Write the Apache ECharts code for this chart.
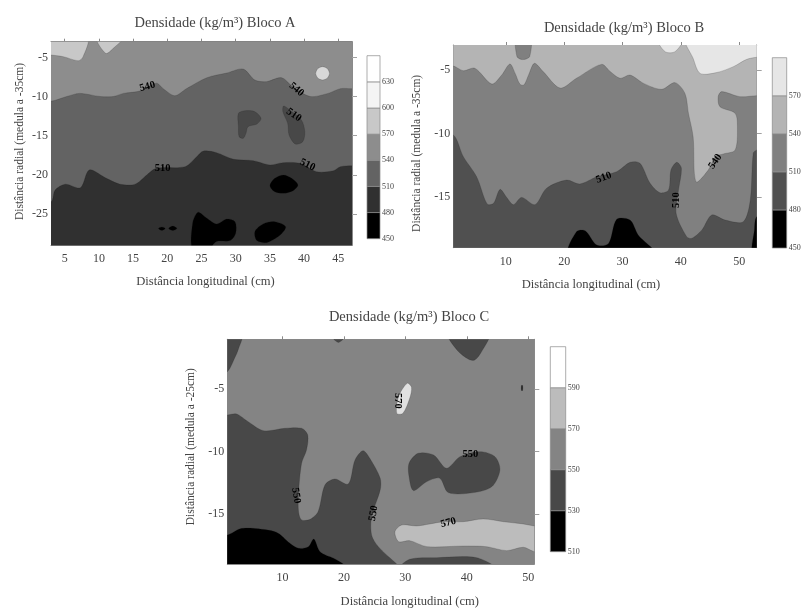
<!DOCTYPE html>
<html><head><meta charset="utf-8">
<script src="https://cdn.jsdelivr.net/npm/echarts@6/dist/echarts.min.js"></script>
<style>html,body{margin:0;padding:0;background:#fff}#c{width:802px;height:608px;filter:blur(0.7px)}</style>
</head><body><div id="c"></div>
<script>
// ---------- Bloco A ----------
const aTitle='Densidade (kg/m³) Bloco A';
const aYName='Distância radial (medula a -35cm)';
const aXTicks=[5,10,15,20,25,30,35,40,45];
const aYTicks=[-5,-10,-15,-20,-25];
const aLevels=[450,480,510,540,570,600,630,660];
const a540=[[3,-10.6],[5.3,-10],[7.2,-9.6],[10.2,-10],[12.1,-10],[13.6,-9.6],[16,-9.3],[18.4,-8.3],[19.4,-9],[21.1,-9.9],[22.8,-9],[25.8,-7.6],[28.7,-7],[31.1,-6.5],[32.8,-7.9],[34.5,-8.1],[36.7,-7.6],[38.4,-8.8],[40.9,-10],[43.5,-9.6],[45.3,-9],[47,-9]];
const a510=[[3,-23.43],[3.6,-21.94],[5.1,-21.2],[7.3,-21.64],[8.6,-19.38],[11.1,-20.45],[13.1,-21.2],[15.3,-21.2],[17,-20.02],[18.4,-19.17],[22.6,-18.96],[24.3,-17.68],[25.3,-16.96],[27.2,-17.17],[29.7,-18.02],[32.6,-18.19],[35,-18.74],[36.9,-18.45],[39.4,-18.53],[41.8,-19.6],[44.3,-19.47],[45.3,-18.96],[47,-18.83]];
const aLight1=[[1,-4.6],[3,-4.7],[4.8,-4.91],[7,-5.43],[7.7,-4.91],[8.3,-2.5],[1,-2]];
const aLight2=[[9.7,-2.5],[11,-4.49],[12.1,-3.85],[13.5,-2.5]];
const aCircle=[[43.7,-7.04],[43.4,-6.44],[42.7,-6.19],[42,-6.44],[41.7,-7.04],[42,-7.64],[42.7,-7.89],[43.4,-7.64]];
const aIsland1=[[30.4,-12.15],[31.4,-11.81],[32.8,-11.94],[33.7,-12.79],[33.1,-13.51],[31.8,-13.85],[31.5,-14.7],[31.1,-15.34],[30.5,-15.13],[30.4,-13.85]];
const aIsland2=[[37,-11.21],[37.9,-11.72],[39.6,-13],[40.1,-14.49],[39.8,-15.77],[38.7,-16.06],[37.8,-14.91],[37.6,-13.43],[36.9,-11.94]];
const aBlack1=[[35,-21.38],[35.7,-20.45],[37,-20.02],[38.2,-20.45],[39.1,-21.3],[38.4,-22.02],[37,-22.36],[35.7,-22.15]];
const aBlack2=[[23.7,-29.5],[23.7,-26.19],[24.5,-24.79],[25.8,-25.55],[27.2,-26.28],[28.7,-25.64],[29.9,-25.98],[30,-27.47],[29.2,-28.4],[27.2,-28.53],[26,-29.5]];
const aBlack3=[[32.8,-27.26],[34,-26.28],[35.7,-25.98],[37.3,-26.62],[36.5,-27.68],[34.5,-28.66],[33.1,-28.4]];
const aDot1=[[18.7,-26.85],[19.2,-26.65],[19.7,-26.85],[19.2,-27.1]];
const aDot2=[[20.2,-26.85],[20.8,-26.55],[21.4,-26.85],[20.8,-27.1]];
const aLabels=[[17.1,-8.74,540],[38.9,-9.09,540],[38.5,-12.36,510],[19.3,-19.17,510],[40.5,-18.74,510]];
const aLabelAngles=[15,-40,-35,0,-25];
// ---------- Bloco B ----------
const bTitle='Densidade (kg/m³) Bloco B';
const bYName='Distância radial (medula a -35cm)';
const bXTicks=[10,20,30,40,50];
const bYTicks=[-5,-10,-15];
const bLevels=[450,480,510,540,570,600];
const b540=[[1,-4.66],[2.7,-5.03],[4.7,-4.84],[7.6,-6.08],[9.3,-5.37],[10.7,-4.5],[11.6,-5.24],[12.4,-6.08],[13.1,-6.16],[13.9,-5.37],[14.9,-4.45],[16.4,-5.1],[19.3,-6.4],[22.1,-5.63],[26.4,-4.53],[27.9,-5.1],[29.6,-5.63],[31.3,-5.37],[33.6,-6.03],[36.7,-6.5],[39,-5.97],[40.7,-6.82],[41.3,-8.39],[42.1,-10.24],[42.6,-13.79],[44.7,-12.87],[45.9,-11.82],[47.3,-11.6],[49.3,-11.29],[49.7,-9.45],[49.3,-8.39],[46.7,-7.87],[46.4,-7.08],[47,-6.68],[50.1,-7.08],[53,-7]];
const bPatch=[[11.8,-2],[11.9,-3.9],[12.9,-4.15],[14.1,-3.9],[14.2,-2]];
const b570a=[[40.9,-2.5],[42.1,-4.05],[43.3,-5.24],[46.1,-5.18],[49,-4.71],[51.3,-4.13],[53,-3.97],[55,-3.9],[55,-2]];
const b570b=[[36,-2.5],[37.3,-3.53],[39,-3.53],[40.4,-2.5]];
const b510=[[1,-10.1],[2.7,-11.8],[5,-13.4],[6.8,-15.55],[7.9,-15.5],[9,-14.4],[10.1,-15],[11.3,-15.6],[12.7,-15.03],[15,-15.6],[17,-14.3],[20.4,-13.66],[22.7,-13.97],[25.6,-13.4],[29,-13],[31.3,-12.26],[33,-12.34],[34.7,-13.9],[36.4,-14.66],[37.9,-14.45],[38.3,-12.87],[39.3,-12.26],[40.1,-12.74],[39.6,-14.45],[39.2,-16.3],[41,-18.13],[41.9,-18.26],[43.6,-17.6],[45.3,-16.42],[47.6,-16.82],[50.7,-16.95],[51.9,-15.24],[52.4,-11.55],[53,-11.3]];
const bBlack1=[[20.8,-19.5],[22.1,-17.74],[23.6,-17.66],[25.6,-18.79],[27.6,-18.66],[29,-16.76],[31.3,-16.82],[32.7,-18],[35.6,-19.5]];
const bBlack2=[[52.3,-19.5],[52.6,-17.6],[53,-16.55],[55,-16.5],[55,-19.5]];
const bLabels=[[26.8,-13.47,510],[39.2,-15.24,510],[45.9,-12.2,540]];
const bLabelAngles=[20,90,55];
// ---------- Bloco C ----------
const cTitle='Densidade (kg/m³) Bloco C';
const cYName='Distância radial (medula a -25cm)';
const cXTicks=[10,20,30,40,50];
const cYTicks=[-5,-10,-15];
const cLevels=[510,530,550,570,590,610];
const c550=[[1,-7.06],[2.5,-6.98],[4.4,-7.6],[6.9,-8.32],[10.4,-8.13],[13.1,-8.13],[14.1,-8.66],[13.9,-9.87],[13.1,-10.93],[12.6,-13.34],[12.6,-14.8],[13.1,-15.47],[14.5,-15.42],[15.8,-14.8],[16.9,-12.67],[18.5,-12.19],[20.7,-12.59],[21.8,-10.67],[23.1,-9.92],[24.2,-10.53],[25.9,-12.13],[25.9,-13.07],[24.5,-15.2],[24.5,-16.67],[25.6,-17.61],[28.6,-19],[30,-19.6]];
const cBlack=[[1,-16.67],[3.1,-16.17],[5.2,-16.14],[9,-16.46],[11.2,-17.34],[12.6,-17.74],[14.2,-17.61],[15.1,-17],[16.1,-18.01],[18.3,-18.54],[19.9,-19],[21,-19.6]];
const cTopLeft=[[-1,-0.5],[3.4,-0.5],[2.8,-1.8],[2.2,-2.5],[1,-3.6],[-1,-4]];
const cTopRight=[[37,-0.6],[38.4,-1.85],[40.3,-2.6],[41.3,-2.66],[42.4,-2],[43.6,-0.6]];
const cTopMid=[[18.1,-0.8],[19.1,-1.25],[20.1,-0.8]];
const cIsland=[[30.6,-10.93],[32.1,-10.13],[34.6,-10.27],[36.7,-11.33],[38.9,-10.4],[42.2,-10],[44.6,-10.4],[45.4,-11.47],[44.1,-12.8],[41.1,-13.28],[37,-13.28],[35.6,-12.13],[33.5,-12.4],[31.3,-13.12],[30.6,-12]];
const cLens=[[28.3,-16.41],[29.4,-15.87],[31.8,-15.95],[34,-15.79],[36.2,-15.61],[39.4,-15.61],[42.7,-15.39],[46,-15.61],[49.2,-15.79],[51,-15.95],[53,-16],[53,-18.1],[51,-18.01],[49.2,-17.66],[46.5,-17.93],[43.2,-17.61],[39.4,-17.56],[33.5,-17.61],[30.7,-17.13],[28.9,-17.21]];
const cSliver=[[29,-19.4],[30.7,-18.62],[35.1,-18.49],[41.6,-18.49],[44.8,-19.4]];
const cPeak=[[28.6,-6.93],[28.9,-5.59],[30.3,-4.52],[31,-4.84],[30.7,-5.73],[29.6,-6.93]];
const cDot=[[48.9,-4.7],[49.1,-4.7],[49.1,-5.1],[48.9,-5.1]];
const cLabels=[[28.7,-5.94,570],[40.6,-10.21,550],[12.2,-13.52,550],[24.8,-14.94,550],[37,-15.69,570]];
const cLabelAngles=[-90,0,-80,80,15];

const FONT='"Liberation Serif", serif';
const INK='#444444';
const grey={k:'#000000',d:'#303030',m:'#636363',g:'#8d8d8d',l:'#c8c8c8',w:'#f4f4f4',W:'#ffffff'};

const above=(c,x0,x1,y1)=>[...c,[x1+3,c[c.length-1][1]],[x1+3,y1+3],[x0-3,y1+3],[x0-3,c[0][1]]];
const below=(c,x0,x1,y0)=>[...c,[x1+3,c[c.length-1][1]],[x1+3,y0-3],[x0-3,y0-3],[x0-3,c[0][1]]];

const panels=[
 {title:aTitle,tc:[210,11],yName:aYName,xT:aXTicks,yT:aYTicks,ext:[3,47,-29,-3],
  rect:[51,41.7,301,203.6],leg:[367,55.7,13,183],levels:aLevels,xPad:[0,0,0,8],yPad:[0,0,0,4],xGap:30,yGap:25,
  legCols:[grey.k,grey.d,grey.m,grey.g,grey.l,grey.w,grey.W],labels:aLabels,angles:aLabelAngles,
  base:grey.m,regions:[
   [above(a540,3,47,-3),grey.g],[aLight1,grey.l],[aLight2,grey.l],[aCircle,'#d8d8d8'],
   [below(a510,3,47,-29),grey.d],[aIsland1,'#484848'],[aIsland2,'#484848'],
   [aBlack1,grey.k],[aBlack2,grey.k],[aBlack3,grey.k],[aDot1,grey.k],[aDot2,grey.k]]},
 {title:bTitle,tc:[619,16],yName:bYName,xT:bXTicks,yT:bYTicks,ext:[1,53,-19,-3],
  rect:[453.3,45,303.4,202.7],leg:[772.3,57.7,14.4,190.3],levels:bLevels,xPad:[0,28,0,0],yPad:[0,14,0,0],xGap:30,yGap:30,
  legCols:['#000','#505050','#808080','#b4b4b4','#e6e6e6'],labels:bLabels,angles:bLabelAngles,
  base:'#808080',regions:[
   [above(b540,1,53,-3),'#b4b4b4'],[bPatch,'#808080'],[b570a,'#e6e6e6'],[b570b,'#e6e6e6'],
   [below(b510,1,53,-19),'#505050'],[bBlack1,'#000'],[bBlack2,'#000']]},
 {title:cTitle,tc:[404,305],yName:cYName,xT:cXTicks,yT:cYTicks,ext:[1,51,-19,-1],
  rect:[227.3,339.3,307,224.7],leg:[550.3,346.7,15.4,205],levels:cLevels,xPad:[0,0,0,58],yPad:[0,0,0,10],xGap:31,yGap:30,
  legCols:['#000','#484848','#848484','#bcbcbc','#ffffff'],labels:cLabels,angles:cLabelAngles,
  base:'#848484',regions:[
   [below(c550,1,51,-19).slice(0,-3).concat([[-2,-22],[-2,-7.06]]),'#484848'],
   [below(cBlack,1,51,-19).slice(0,-3).concat([[-2,-22],[-2,-16.67]]),'#000'],
   [cTopLeft,'#484848'],[cTopRight,'#484848'],[cTopMid,'#484848'],[cIsland,'#484848'],
   [cLens,'#bcbcbc'],[cSliver,'#484848'],[cPeak,'#e0e0e0'],[cDot,'#222']]}
];

const opt={animation:false,backgroundColor:'#fff',title:[],grid:[],xAxis:[],yAxis:[],series:[]};
const frame={show:true,onZero:false,lineStyle:{color:'#8a8a8a',width:1}};
const lbl={color:INK,fontFamily:FONT,fontSize:12};

panels.forEach((p)=>{
 const [x0,x1,y0,y1]=p.ext;
 opt.title.push({text:p.title,left:p.tc[0],top:p.tc[1],textAlign:'center',
   textStyle:{fontFamily:FONT,fontSize:14.5,fontWeight:'normal',color:INK}});
 const g=opt.grid.length;
 opt.grid.push({left:p.rect[0],top:p.rect[1],width:p.rect[2],height:p.rect[3],outerBoundsMode:'none'});
 const xi=opt.xAxis.length, yi=opt.yAxis.length;
 opt.xAxis.push({type:'value',gridIndex:g,min:x0,max:x1,position:'bottom',name:'Distância longitudinal (cm)',
   nameLocation:'middle',nameGap:p.xGap,nameTextStyle:{...lbl,fontSize:12.6,padding:p.xPad},
   axisLine:frame,splitLine:{show:false},axisTick:{show:false},
   axisLabel:{...lbl,margin:8,customValues:p.xT}});
 opt.xAxis.push({type:'value',gridIndex:g,min:x0,max:x1,position:'top',
   axisLine:frame,splitLine:{show:false},axisLabel:{show:false},
   axisTick:{show:true,length:3,lineStyle:{color:'#8a8a8a'},customValues:p.xT}});
 opt.yAxis.push({type:'value',gridIndex:g,min:y0,max:y1,position:'left',name:p.yName,
   nameLocation:'middle',nameGap:p.yGap,nameTextStyle:{...lbl,fontSize:11.5,padding:p.yPad},
   axisLine:frame,splitLine:{show:false},axisTick:{show:false},
   axisLabel:{...lbl,margin:3,customValues:p.yT}});
 opt.yAxis.push({type:'value',gridIndex:g,min:y0,max:y1,position:'right',
   axisLine:frame,splitLine:{show:false},axisLabel:{show:false},
   axisTick:{show:true,length:5,lineStyle:{color:'#a0a0a0'},customValues:p.yT}});
 const corners=[[x0-3,y0-3],[x1+3,y0-3],[x1+3,y1+3],[x0-3,y1+3]];
 [[corners,p.base],...p.regions].forEach(([pts,col])=>{
  opt.series.push({type:'custom',xAxisIndex:xi,yAxisIndex:yi,silent:true,z:2,
   data:pts,encode:{x:0,y:1},
   renderItem:(params,api)=>params.dataIndex!==0?null:({
     type:'polygon',
     shape:{points:pts.map(q=>api.coord(q)),smooth:pts===corners?0:0.3},
     style:{fill:col,stroke:'rgba(30,30,30,0.3)',lineWidth:pts===corners?0:0.6},
     clipPath:{type:'rect',shape:{x:params.coordSys.x,y:params.coordSys.y,width:params.coordSys.width,height:params.coordSys.height}}
   })});
 });
 opt.series.push({type:'custom',xAxisIndex:xi,yAxisIndex:yi,silent:true,z:5,
   data:p.labels,encode:{x:0,y:1},
   renderItem:(params,api)=>{const c=api.coord([api.value(0),api.value(1)]);
     return {type:'text',x:c[0],y:c[1],rotation:p.angles[params.dataIndex]*Math.PI/180,
       style:{text:String(api.value(2)),fill:'#000',font:'bold 10.5px '+FONT,align:'center',verticalAlign:'middle'}};}});
 const lg=opt.grid.length;
 opt.grid.push({left:p.leg[0],top:p.leg[1],width:p.leg[2],height:p.leg[3],outerBoundsMode:'none'});
 const lx=opt.xAxis.length, ly=opt.yAxis.length;
 opt.xAxis.push({type:'value',gridIndex:lg,min:0,max:1,show:false});
 const lv=p.levels;
 opt.yAxis.push({type:'value',gridIndex:lg,min:lv[0],max:lv[lv.length-1],position:'right',
   axisLine:{show:false},axisTick:{show:false},splitLine:{show:false},
   axisLabel:{color:INK,fontFamily:FONT,fontSize:8,margin:2,customValues:lv.slice(0,-1)}});
 opt.series.push({type:'custom',xAxisIndex:lx,yAxisIndex:ly,silent:true,z:2,
   data:lv.slice(0,-1).map((v,i)=>[v,lv[i+1]]),encode:{y:[0,1]},
   renderItem:(params,api)=>{const a=api.coord([0,api.value(1)]),b=api.coord([1,api.value(0)]);
     return {type:'rect',shape:{x:a[0],y:a[1],width:b[0]-a[0],height:b[1]-a[1]},
       style:{fill:p.legCols[params.dataIndex],stroke:'#8a8a8a',lineWidth:0.7}};}});
});
const chart=echarts.init(document.getElementById('c'),null,{renderer:'canvas'});
chart.setOption(opt);
</script></body></html>
